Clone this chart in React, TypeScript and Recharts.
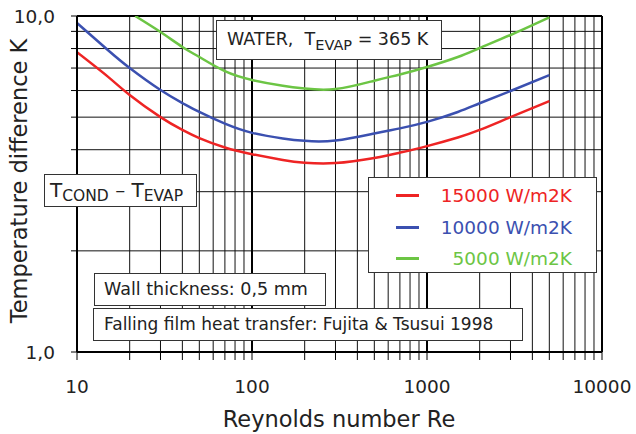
import {
  LineChart, Line, XAxis, YAxis, CartesianGrid, Legend,
  Label, ReferenceLine,
} from "recharts";

// Reynolds numbers for the 15000 and 10000 W/m2K curves
const RE_HIGH = [10, 15, 20, 30, 40, 50, 70, 100, 150, 200, 300, 500, 700, 1000, 1500, 2000, 3000, 5000];
const DT_15000 = [7.8, 6.6, 5.82, 5.0, 4.58, 4.33, 4.06, 3.88, 3.73, 3.66, 3.65, 3.78, 3.92, 4.1, 4.35, 4.58, 5.0, 5.58];
const DT_10000 = [9.53, 7.92, 7.0, 6.02, 5.51, 5.18, 4.78, 4.49, 4.32, 4.25, 4.26, 4.47, 4.63, 4.84, 5.18, 5.5, 5.98, 6.67];

// the 5000 W/m2K curve enters the plot at about Re = 21
const RE_LOW = [21.5, 30, 40, 50, 70, 100, 150, 200, 300, 500, 700, 1000, 1500, 2000, 3000, 5000];
const DT_5000 = [10.0, 8.96, 8.09, 7.55, 6.85, 6.45, 6.2, 6.08, 6.06, 6.42, 6.7, 7.05, 7.55, 8.03, 8.78, 9.91];

const X_TICKS = [
  10, 20, 30, 40, 50, 60, 70, 80, 90,
  100, 200, 300, 400, 500, 600, 700, 800, 900,
  1000, 2000, 3000, 4000, 5000, 6000, 7000, 8000, 9000, 10000,
];
const X_LABELS = [10, 100, 1000, 10000];
const Y_TICKS = [1, 2, 3, 4, 5, 6, 7, 8, 9, 10];

const FONT = "'DejaVu Sans', sans-serif";

const series = [
  { name: "15000 W/m2K", color: "#ee2424", re: RE_HIGH, dt: DT_15000 },
  { name: "10000 W/m2K", color: "#3b50b0", re: RE_HIGH, dt: DT_10000 },
  { name: "5000 W/m2K", color: "#6cc544", re: RE_LOW, dt: DT_5000 },
];
const ORDER = series.map((s) => s.name);

const box: React.CSSProperties = {
  position: "absolute",
  boxSizing: "border-box",
  background: "#fff",
  border: "1px solid #333",
  color: "#222",
  whiteSpace: "nowrap",
};

function LegendBox({ payload }: any) {
  // keep the drawing order, not the alphabetical one
  const items = [...(payload || [])].sort(
    (a: any, b: any) => ORDER.indexOf(a.value) - ORDER.indexOf(b.value)
  );
  return (
    <div
      style={{
        ...box,
        position: "static",
        width: 229,
        height: 96,
        padding: "2px 0 0 0",
        fontFamily: FONT,
        fontSize: 18.5,
      }}
    >
      {items.map((p: any) => (
        <div key={p.value} style={{ display: "flex", alignItems: "center", height: 31.5 }}>
          <span style={{ width: 23, height: 3, background: p.color, marginLeft: 27 }} />
          <span style={{ width: 153, textAlign: "right", color: p.color }}>{p.value}</span>
        </div>
      ))}
    </div>
  );
}

export default function App() {
  return (
    <div style={{ position: "absolute", left: 0, top: 0, width: 636, height: 434, background: "#fff" }}>
      <LineChart
        width={636}
        height={434}
        margin={{ top: 16, right: 34, bottom: 0, left: 0 }}
        style={{ fontFamily: FONT }}
      >
        <CartesianGrid stroke="#111" strokeWidth={1} />
        <XAxis
          type="number"
          dataKey="re"
          scale="log"
          domain={[10, 10000]}
          allowDataOverflow
          ticks={X_TICKS}
          interval={0}
          height={82}
          tickSize={8}
          tickMargin={20}
          tickFormatter={(v: number) => (X_LABELS.includes(v) ? String(v) : "")}
          tick={{ fontSize: 18.5, fill: "#222" }}
          axisLine={{ stroke: "#000", strokeWidth: 2 }}
          tickLine={{ stroke: "#000" }}
        >
          <Label
            content={() => (
              <text x={339} y={427} textAnchor="middle" fontSize={22.5} fill="#222" fontFamily={FONT}>
                Reynolds number Re
              </text>
            )}
          />
        </XAxis>
        <YAxis
          type="number"
          scale="log"
          domain={[1, 10]}
          allowDataOverflow
          ticks={Y_TICKS}
          interval={0}
          width={77}
          tickSize={6}
          tickMargin={16}
          tickFormatter={(v: number) => (v === 1 ? "1,0" : v === 10 ? "10,0" : "")}
          tick={{ fontSize: 18.5, fill: "#222" }}
          axisLine={{ stroke: "#000", strokeWidth: 2 }}
          tickLine={{ stroke: "#000" }}
        >
          <Label
            content={() => (
              <text
                x={27}
                y={181}
                textAnchor="middle"
                fontSize={22.5}
                fill="#222"
                fontFamily={FONT}
                transform="rotate(-90 27 181)"
              >
                Temperature difference K
              </text>
            )}
          />
        </YAxis>
        <ReferenceLine x={100} stroke="#000" strokeWidth={2} />
        <ReferenceLine x={1000} stroke="#000" strokeWidth={2} />
        <ReferenceLine x={10000} stroke="#000" strokeWidth={2} />
        <ReferenceLine y={10} stroke="#000" strokeWidth={2} />
        {series.map((s) => (
          <Line
            key={s.name}
            name={s.name}
            data={s.re.map((re, i) => ({ re, dt: s.dt[i] }))}
            dataKey="dt"
            type="natural"
            stroke={s.color}
            strokeWidth={2.5}
            dot={false}
            isAnimationActive={false}
          />
        ))}
        <Legend
          layout="horizontal"
          verticalAlign="middle"
          align="center"
          content={<LegendBox />}
          wrapperStyle={{ position: "absolute", left: 368, top: 177, width: 229, height: 96 }}
        />
      </LineChart>

      <div style={{ ...box, left: 216, top: 20, width: 226, height: 40, fontFamily: FONT, fontSize: 17.5, padding: "8px 0 0 10px" }}>
        WATER,&nbsp;&nbsp;T<sub style={{ fontSize: 14.5, verticalAlign: "-5px" }}>EVAP</sub> = 365 K
      </div>
      <div style={{ ...box, left: 44, top: 174, width: 153, height: 33, fontFamily: FONT, fontSize: 20, padding: "3px 0 0 5px" }}>
        T<sub style={{ fontSize: 15.5, verticalAlign: "-4px" }}>COND</sub> – T<sub style={{ fontSize: 15.5, verticalAlign: "-4px" }}>EVAP</sub>
      </div>
      <div style={{ ...box, left: 94, top: 273, width: 232, height: 33, fontFamily: FONT, fontSize: 17.5, padding: "5px 0 0 9px" }}>
        Wall thickness: 0,5 mm
      </div>
      <div style={{ ...box, left: 93, top: 308, width: 430, height: 33, fontFamily: FONT, fontSize: 17, padding: "5px 0 0 10px" }}>
        Falling film heat transfer: Fujita &amp; Tsusui 1998
      </div>
    </div>
  );
}
